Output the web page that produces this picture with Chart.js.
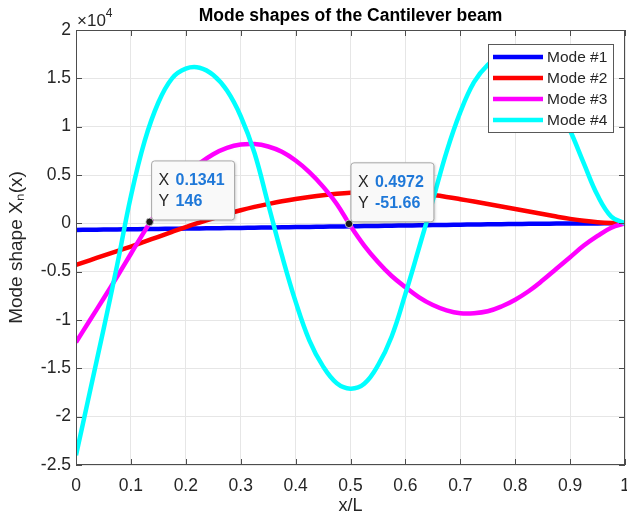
<!DOCTYPE html>
<html>
<head>
<meta charset="utf-8">
<script src="https://cdn.jsdelivr.net/npm/chart.js"></script>
<style>
  html, body { margin: 0; padding: 0; background: #fff; }
  #wrap { width: 627px; height: 519px; }
</style>
</head>
<body>
<div id="wrap"><canvas id="chart"></canvas></div>
<script>
// x/L positions shared by all four mode shapes
const xs = [0, 0.025, 0.05, 0.075, 0.1, 0.125, 0.15, 0.175, 0.2, 0.225, 0.25, 0.275, 0.3, 0.325, 0.35, 0.375, 0.4, 0.425, 0.45, 0.475,
  0.5, 0.525, 0.55, 0.575, 0.6, 0.625, 0.65, 0.675, 0.7, 0.725, 0.75, 0.775, 0.8, 0.825, 0.85, 0.875, 0.9, 0.925, 0.95, 0.975, 1]

const mode1 = [-680, -664, -648, -632, -615, -598, -581, -563, -545, -527, -508, -489, -470, -450, -430, -410, -390, -369, -348, -327,
  -306, -285, -264, -243, -222, -201, -181, -161, -141, -122, -104, -87, -71, -56, -42, -30, -20, -11, -5, -1, 0]
const mode2 = [-4300, -3820, -3340, -2870, -2400, -1900, -1390, -880, -380, 80, 520, 950, 1350, 1700, 2000, 2280, 2520, 2730, 2910, 3050,
  3160, 3230, 3260, 3240, 3180, 3070, 2920, 2730, 2500, 2250, 2000, 1740, 1480, 1220, 960, 700, 460, 260, 110, 25, 0]
const mode3 = [-12300, -10050, -7800, -5500, -3150, -800, 1400, 3400, 5000, 6200, 7150, 7800, 8150, 8200, 7950, 7400, 6500, 5300, 3800, 2000,
  -270, -2300, -4000, -5450, -6600, -7650, -8450, -9000, -9300, -9300, -9100, -8600, -7900, -7000, -5900, -4700, -3500, -2300, -1300, -450, 0]
const mode4 = [-24000, -17500, -11000, -4300, 2800, 8500, 12500, 15000, 16000, 16100, 15340, 13730, 11080, 7300, 2000, -3300, -8100, -12100, -14800, -16540,
  -17100, -16600, -14700, -11700, -7300, -2500, 2400, 7400, 11500, 14600, 16400, 17300, 17500, 16800, 14900, 12400, 9600, 6200, 2900, 700, 0]

const seriesNames = ["Mode #1", "Mode #2", "Mode #3", "Mode #4"]
const seriesColors = ["#0000ff", "#ff0000", "#ff00ff", "#00ffff"]

const xTicks = [0, 0.1, 0.2, 0.3, 0.4, 0.5, 0.6, 0.7, 0.8, 0.9, 1]
const yTicks = [-25000, -20000, -15000, -10000, -5000, 0, 5000, 10000, 15000, 20000]

// data tips
const tipX = [0.1341, 0.4972]
const tipY = [146, -51.66]

const FONT = "'Liberation Sans', Arial, sans-serif"
Chart.defaults.font.family = FONT
Chart.defaults.color = "#262626"

const toPoints = (ys) => xs.map((x, i) => ({ x, y: ys[i] }))

const frame = {
  id: "frame",
  afterDatasetsDraw(chart) {
    const { ctx, chartArea: a, scales: { x, y } } = chart
    ctx.save()
    ctx.strokeStyle = "#4d4d4d"
    ctx.lineWidth = 1
    ctx.beginPath()
    x.ticks.forEach((t) => {
      const px = Math.round(x.getPixelForValue(t.value)) + 0.5
      ctx.moveTo(px, a.bottom); ctx.lineTo(px, a.bottom - 6)
      ctx.moveTo(px, a.top); ctx.lineTo(px, a.top + 6)
    })
    y.ticks.forEach((t) => {
      const py = Math.round(y.getPixelForValue(t.value)) + 0.5
      ctx.moveTo(a.left, py); ctx.lineTo(a.left + 6, py)
      ctx.moveTo(a.right, py); ctx.lineTo(a.right - 6, py)
    })
    ctx.stroke()
    ctx.strokeRect(Math.round(a.left) + 0.5, Math.round(a.top) + 0.5, Math.round(a.width) - 1, Math.round(a.height) - 1)

    // exponent label
    ctx.fillStyle = "#262626"
    ctx.textBaseline = "alphabetic"
    ctx.textAlign = "left"
    ctx.font = "17px " + FONT
    ctx.fillText("×10", a.left + 1, a.top - 4)
    const w = ctx.measureText("×10").width
    ctx.font = "12px " + FONT
    ctx.fillText("4", a.left + 1 + w, a.top - 13)
    ctx.restore()
  },
}

const dataTips = {
  id: "dataTips",
  afterDatasetsDraw(chart) {
    const { ctx, scales: { x, y } } = chart
    ctx.save()
    tipX.forEach((tx, i) => {
      const px = x.getPixelForValue(tx)
      const py = y.getPixelForValue(tipY[i])
      const xs_ = String(tx), ys_ = String(tipY[i])
      ctx.font = "bold 16px " + FONT
      const vw = Math.max(ctx.measureText(xs_).width, ctx.measureText(ys_).width)
      const left = px + 2, top = py - 61, w = 24 + vw + 10, h = 59
      ctx.shadowColor = "rgba(0,0,0,0.25)"
      ctx.shadowBlur = 3
      ctx.shadowOffsetX = 1
      ctx.shadowOffsetY = 1
      ctx.fillStyle = "#f9f9f9"
      ctx.beginPath()
      ctx.roundRect(left, top, w, h, 3)
      ctx.fill()
      ctx.shadowColor = "transparent"
      ctx.strokeStyle = "#a8a8a8"
      ctx.lineWidth = 1
      ctx.stroke()

      ctx.textBaseline = "middle"
      ctx.textAlign = "left"
      ctx.font = "16px " + FONT
      ctx.fillStyle = "#262626"
      ctx.fillText("X", left + 7, top + 20)
      ctx.fillText("Y", left + 7, top + 41)
      ctx.font = "bold 16px " + FONT
      ctx.fillStyle = "#1f78d8"
      ctx.fillText(xs_, left + 24, top + 20)
      ctx.fillText(ys_, left + 24, top + 41)

      ctx.beginPath()
      ctx.arc(px, py, 3.8, 0, Math.PI * 2)
      ctx.fillStyle = "#1a1a1a"
      ctx.fill()
      ctx.strokeStyle = "#e0e0e0"
      ctx.lineWidth = 0.8
      ctx.stroke()
    })
    ctx.restore()
  },
}

const boxLegend = {
  id: "boxLegend",
  afterDatasetsDraw(chart) {
    const { ctx, chartArea: a } = chart
    const left = a.right - 137, top = a.top + 14, w = 125, h = 88
    ctx.save()
    ctx.fillStyle = "#fff"
    ctx.fillRect(left, top, w, h)
    ctx.strokeStyle = "#595959"
    ctx.lineWidth = 1
    ctx.strokeRect(Math.round(left) + 0.5, Math.round(top) + 0.5, w, h)
    ctx.font = "15.5px " + FONT
    ctx.textBaseline = "middle"
    ctx.textAlign = "left"
    chart.data.datasets.forEach((ds, i) => {
      const ry = top + 13 + i * 21
      ctx.strokeStyle = ds.borderColor
      ctx.lineWidth = 4.5
      ctx.beginPath()
      ctx.moveTo(left + 5, ry)
      ctx.lineTo(left + 55, ry)
      ctx.stroke()
      ctx.fillStyle = "#262626"
      ctx.fillText(ds.label, left + 59, ry + 1)
    })
    ctx.restore()
  },
}

const modes = [mode1, mode2, mode3, mode4]

new Chart(document.getElementById("chart"), {
  type: "line",
  data: {
    datasets: modes.map((m, i) => ({
      label: seriesNames[i],
      data: toPoints(m),
      borderColor: seriesColors[i],
      backgroundColor: seriesColors[i],
      borderWidth: 4.5,
      pointRadius: 0,
      tension: 0.4,
      order: modes.length - i,
    })),
  },
  options: {
    responsive: true,
    maintainAspectRatio: false,
    animation: false,
    layout: { padding: { left: 0, right: 2, top: 0, bottom: 0 } },
    plugins: {
      legend: { display: false },
      tooltip: { enabled: false },
      title: {
        display: true,
        text: "Mode shapes of the Cantilever beam",
        fullSize: false,
        color: "#000",
        font: { size: 17.5, weight: "bold" },
        padding: { top: 6, bottom: 3 },
      },
    },
    scales: {
      x: {
        type: "linear",
        min: 0,
        max: 1,
        afterBuildTicks: (s) => { s.ticks = xTicks.map((v) => ({ value: v })) },
        afterFit: (s) => { s.height = 54; s.paddingLeft = 0; s.paddingRight = 0 },
        ticks: { color: "#262626", font: { size: 17.5 }, padding: 11, maxRotation: 0, callback: (v) => String(v) },
        grid: { color: "#e6e6e6", drawTicks: false },
        border: { display: false },
        title: { display: true, text: "x/L", color: "#262626", font: { size: 18 }, padding: { top: 0, bottom: 2 } },
      },
      y: {
        type: "linear",
        min: -25000,
        max: 20000,
        afterBuildTicks: (s) => { s.ticks = yTicks.map((v) => ({ value: v })) },
        afterFit: (s) => { s.width = 76 },
        ticks: { color: "#262626", font: { size: 17.5 }, padding: 5, callback: (v) => String(v / 10000) },
        grid: { color: "#e6e6e6", drawTicks: false },
        border: { display: false },
        title: { display: true, text: "Mode shape Xₙ(x)", color: "#262626", font: { size: 19 }, padding: { top: 5, bottom: 0 } },
      },
    },
  },
  plugins: [frame, dataTips, boxLegend],
})
</script>
</body>
</html>
